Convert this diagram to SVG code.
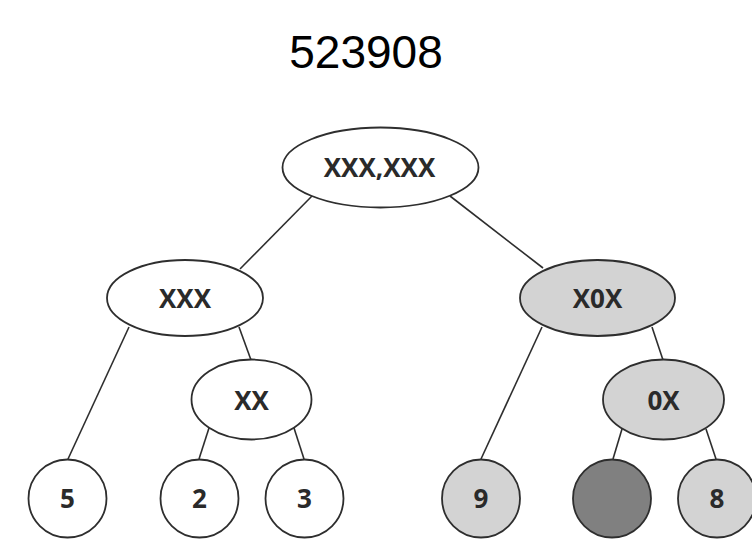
<svg xmlns="http://www.w3.org/2000/svg" width="752" height="539" viewBox="0 0 752 539">
<style>
.n{stroke:#2e2e2e;stroke-width:1.8;fill:#ffffff}
.g{fill:#d3d3d3}
.d{fill:#808080}
.t{font-family:"Open Sans","Noto Sans",sans-serif;font-weight:bold;font-size:26px;fill:#2a2a2a;text-anchor:middle}
.e{stroke:#2e2e2e;stroke-width:1.6;fill:none}
</style>
<rect width="752" height="539" fill="#ffffff"/>
<text x="366" y="68" font-family="Liberation Sans, Arial, sans-serif" font-size="46" text-anchor="middle" fill="#000">523908</text>
<g id="connectors">
<line class="e" x1="312" y1="196" x2="240" y2="269"/>
<line class="e" x1="450" y1="196" x2="543" y2="268"/>
<line class="e" x1="129" y1="327" x2="68" y2="459"/>
<line class="e" x1="239" y1="327" x2="251" y2="360"/>
<line class="e" x1="209" y1="428" x2="199" y2="459"/>
<line class="e" x1="294" y1="428" x2="304" y2="459"/>
<line class="e" x1="542" y1="327" x2="481" y2="459"/>
<line class="e" x1="652" y1="327" x2="663" y2="360"/>
<line class="e" x1="622" y1="429" x2="613" y2="459"/>
<line class="e" x1="706" y1="429" x2="716" y2="459"/>
</g>
<g id="root"><ellipse class="n" cx="380.5" cy="167.5" rx="98" ry="40"/><text class="t" x="379.5" y="177">XXX,XXX</text></g>
<g id="xxx"><ellipse class="n" cx="185" cy="298" rx="78" ry="38"/><text class="t" x="185" y="308">XXX</text></g>
<g id="xx"><ellipse class="n" cx="251.5" cy="399.5" rx="60" ry="40"/><text class="t" x="251.5" y="410">XX</text></g>
<g id="x0x"><ellipse class="n g" cx="597.5" cy="298" rx="77.5" ry="38"/><text class="t" x="597.5" y="308">X0X</text></g>
<g id="ox"><ellipse class="n g" cx="663.5" cy="399.5" rx="60.5" ry="40"/><text class="t" x="663.5" y="410">0X</text></g>
<g id="leaf5"><circle class="n" cx="67.5" cy="498.5" r="39"/><text class="t" x="67.5" y="508">5</text></g>
<g id="leaf2"><circle class="n" cx="199.5" cy="498.5" r="39"/><text class="t" x="199.5" y="508">2</text></g>
<g id="leaf3"><circle class="n" cx="304.5" cy="498.5" r="39"/><text class="t" x="304.5" y="508">3</text></g>
<g id="leaf9"><circle class="n g" cx="481" cy="498.5" r="39"/><text class="t" x="481" y="508">9</text></g>
<g id="leafdark"><circle class="n d" cx="612" cy="498.5" r="39"/></g>
<g id="leaf8"><circle class="n g" cx="717" cy="498.5" r="39"/><text class="t" x="717" y="508">8</text></g>
</svg>
